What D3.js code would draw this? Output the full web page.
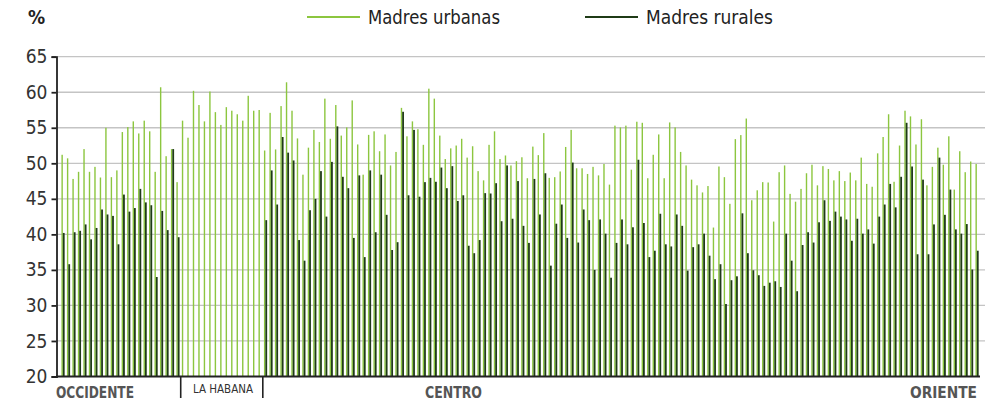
<!DOCTYPE html>
<html><head><meta charset="utf-8">
<script src="https://cdn.jsdelivr.net/npm/d3@7"></script>
<style>
body{margin:0;background:#fff;}
svg{display:block;font-family:"Liberation Sans Narrow","DejaVu Sans Condensed","Roboto Condensed",sans-serif;}
</style></head>
<body><svg id="c" width="998" height="402"></svg>
<script>
const seriesNames = ["Madres urbanas","Madres rurales"];
const urbanValues = [51.2,50.7,47.8,48.8,52.0,48.8,49.5,48.0,55.0,48.05,49.0,54.4,55.1,55.9,54.2,56.0,54.5,48.8,60.7,51.0,52.0,47.35,
56.0,53.6,60.2,58.2,55.9,60.1,57.2,55.4,57.9,57.4,56.9,56.0,59.5,57.4,57.5,
51.8,57.1,51.95,58.05,61.4,57.4,53.5,48.4,52.2,54.7,53.0,59.1,53.45,58.2,53.9,55.05,58.85,52.65,48.4,54.0,54.5,51.7,54.06,49.7,51.6,57.8,53.8,55.9,
54.8,52.6,60.5,59.1,53.9,50.6,52.1,52.5,53.45,50.8,52.4,48.9,47.6,52.6,54.5,50.6,51.1,49.7,50.3,50.85,47.9,52.35,51.15,54.25,47.95,48.05,48.85,52.3,54.7,49.3,49.3,48.5,49.5,
48.3,49.9,47.0,55.3,55.05,55.3,49.1,55.85,55.7,47.9,51.2,54.06,47.9,55.75,55.05,51.6,49.7,47.7,46.9,45.9,46.8,40.96,49.55,48.05,44.3,53.4,53.97,56.3,44.8,46.2,47.35,47.3,41.8,
48.75,49.7,45.7,44.6,46.4,48.6,49.8,46.9,49.6,49.2,47.6,48.9,47.5,48.7,47.6,50.8,47.1,46.7,51.4,53.7,56.9,47.4,52.5,57.4,56.6,52.65,56.2,46.9,49.5,52.2,49.8,53.8,46.3,51.7,48.75,50.25,49.9];
const ruralValues = [40.2,35.8,40.3,40.5,41.4,39.3,40.9,43.5,42.8,42.6,38.6,45.6,43.2,43.7,46.4,44.5,44.1,34.0,43.3,40.6,52.0,39.6,
null,null,null,null,null,null,null,null,null,null,null,null,null,null,null,
42.0,49.0,44.2,53.7,51.5,50.4,39.2,36.3,43.4,45.0,48.9,42.5,50.2,55.2,48.1,46.5,39.5,48.3,36.8,49.0,40.3,48.4,42.75,37.8,38.9,57.25,45.5,54.7,
45.3,47.35,47.95,47.4,49.4,46.5,49.6,44.7,45.5,38.4,37.35,39.2,45.8,45.75,47.2,41.85,49.7,42.2,47.5,41.2,38.8,47.8,42.8,48.6,35.6,41.5,44.2,39.5,50.1,38.85,43.5,42.0,35.0,
42.1,40.1,33.9,38.8,42.1,38.6,41.0,50.5,41.6,36.8,37.7,42.9,38.6,38.3,42.8,41.2,34.9,38.2,38.6,40.1,37.0,33.7,35.8,30.2,33.55,34.1,42.96,37.35,34.95,34.25,32.75,33.2,33.4,
32.6,40.1,36.3,32.0,38.5,40.3,38.85,41.7,44.8,41.9,43.2,42.5,42.1,39.1,42.2,40.1,40.7,38.7,42.5,44.2,47.1,43.8,48.1,55.7,49.55,37.2,47.7,37.2,41.4,50.8,42.75,46.3,40.7,40.1,41.45,35.05,37.7];
const yTicks = [20,25,30,35,40,45,50,55,60,65];
const regionNames = ["OCCIDENTE","LA HABANA","CENTRO","ORIENTE"];
const regionStart = [0,22,37,120];

const svg = d3.select("#c");
const idx = d3.range(urbanValues.length);
const x = d3.scaleBand().domain(idx).range([60.3, 979.8]).padding(0);
const y = d3.scaleLinear().domain([20,65]).range([376.5, 56.7]);
const bw = x.bandwidth();
const cUrban = "#8cc63f", cRural = "#1f3b17";

// gridlines
svg.append("g").selectAll("line").data(yTicks.slice(1)).join("line")
  .attr("x1",57).attr("x2",985).attr("y1",d=>y(d)).attr("y2",d=>y(d))
  .attr("stroke","#c4c4c4").attr("stroke-width",1.3);

// bars
const uW = 1.4, rW = 1.8;
svg.append("g").selectAll("rect").data(idx).join("rect")
  .attr("x",i=>x(i)+bw/2-1.6).attr("width",uW)
  .attr("y",i=>y(urbanValues[i])).attr("height",i=>y(20)-y(urbanValues[i]))
  .attr("fill",cUrban);
svg.append("g").selectAll("rect").data(idx.filter(i=>ruralValues[i]!=null)).join("rect")
  .attr("x",i=>x(i)+bw/2-1.6+uW).attr("width",rW)
  .attr("y",i=>y(ruralValues[i])).attr("height",i=>y(20)-y(ruralValues[i]))
  .attr("fill",cRural);

// y axis
const yAxis = d3.axisLeft(y).tickValues(yTicks).tickSize(5).tickFormat(d3.format("d"));
const ga = svg.append("g").attr("transform","translate(56.5,0)").call(yAxis);
ga.select(".domain").attr("stroke","#222").attr("stroke-width",1.8);
ga.selectAll(".tick line").attr("stroke","#222").attr("stroke-width",1.8);
ga.selectAll(".tick text").attr("font-size",19).attr("fill","#333").attr("x",-9)
  .attr("font-family",'"Liberation Sans Narrow","DejaVu Sans Condensed",sans-serif');

// x baseline
svg.append("line").attr("x1",56).attr("x2",980).attr("y1",y(20)).attr("y2",y(20))
  .attr("stroke","#222").attr("stroke-width",2);

// region dividers
[regionStart[1],regionStart[2]].forEach(i=>{
  svg.append("line").attr("x1",x(i)).attr("x2",x(i)).attr("y1",y(20)).attr("y2",398)
    .attr("stroke","#222").attr("stroke-width",1.6);
});

// region labels
const lab = svg.append("g").attr("fill","#555").attr("font-weight","bold");
lab.append("text").attr("x",56).attr("y",398).attr("font-size",16)
  .attr("textLength",78).attr("lengthAdjust","spacingAndGlyphs").text(regionNames[0]);
lab.append("text").attr("x",193).attr("y",393)
  .attr("font-size",13).attr("font-weight","normal").attr("fill","#333")
  .attr("textLength",60).attr("lengthAdjust","spacingAndGlyphs").text(regionNames[1]);
lab.append("text").attr("x",425).attr("y",398).attr("font-size",16)
  .attr("textLength",57).attr("lengthAdjust","spacingAndGlyphs").text(regionNames[2]);
lab.append("text").attr("x",910).attr("y",398).attr("font-size",16)
  .attr("textLength",67).attr("lengthAdjust","spacingAndGlyphs").text(regionNames[3]);

// % label
svg.append("text").attr("x",28).attr("y",24).attr("font-size",19).attr("font-weight","bold").attr("fill","#222").text("%");

// legend
const leg = [{n:seriesNames[0],c:cUrban,x:307},{n:seriesNames[1],c:cRural,x:585}];
leg.forEach(l=>{
  svg.append("line").attr("x1",l.x).attr("x2",l.x+53).attr("y1",17).attr("y2",17).attr("stroke",l.c).attr("stroke-width",2);
  svg.append("text").attr("x",l.x+61).attr("y",24).attr("font-size",19).attr("fill","#222")
    .attr("textLength",l.x===307?132:127).attr("lengthAdjust","spacingAndGlyphs").text(l.n);
});
</script></body></html>
